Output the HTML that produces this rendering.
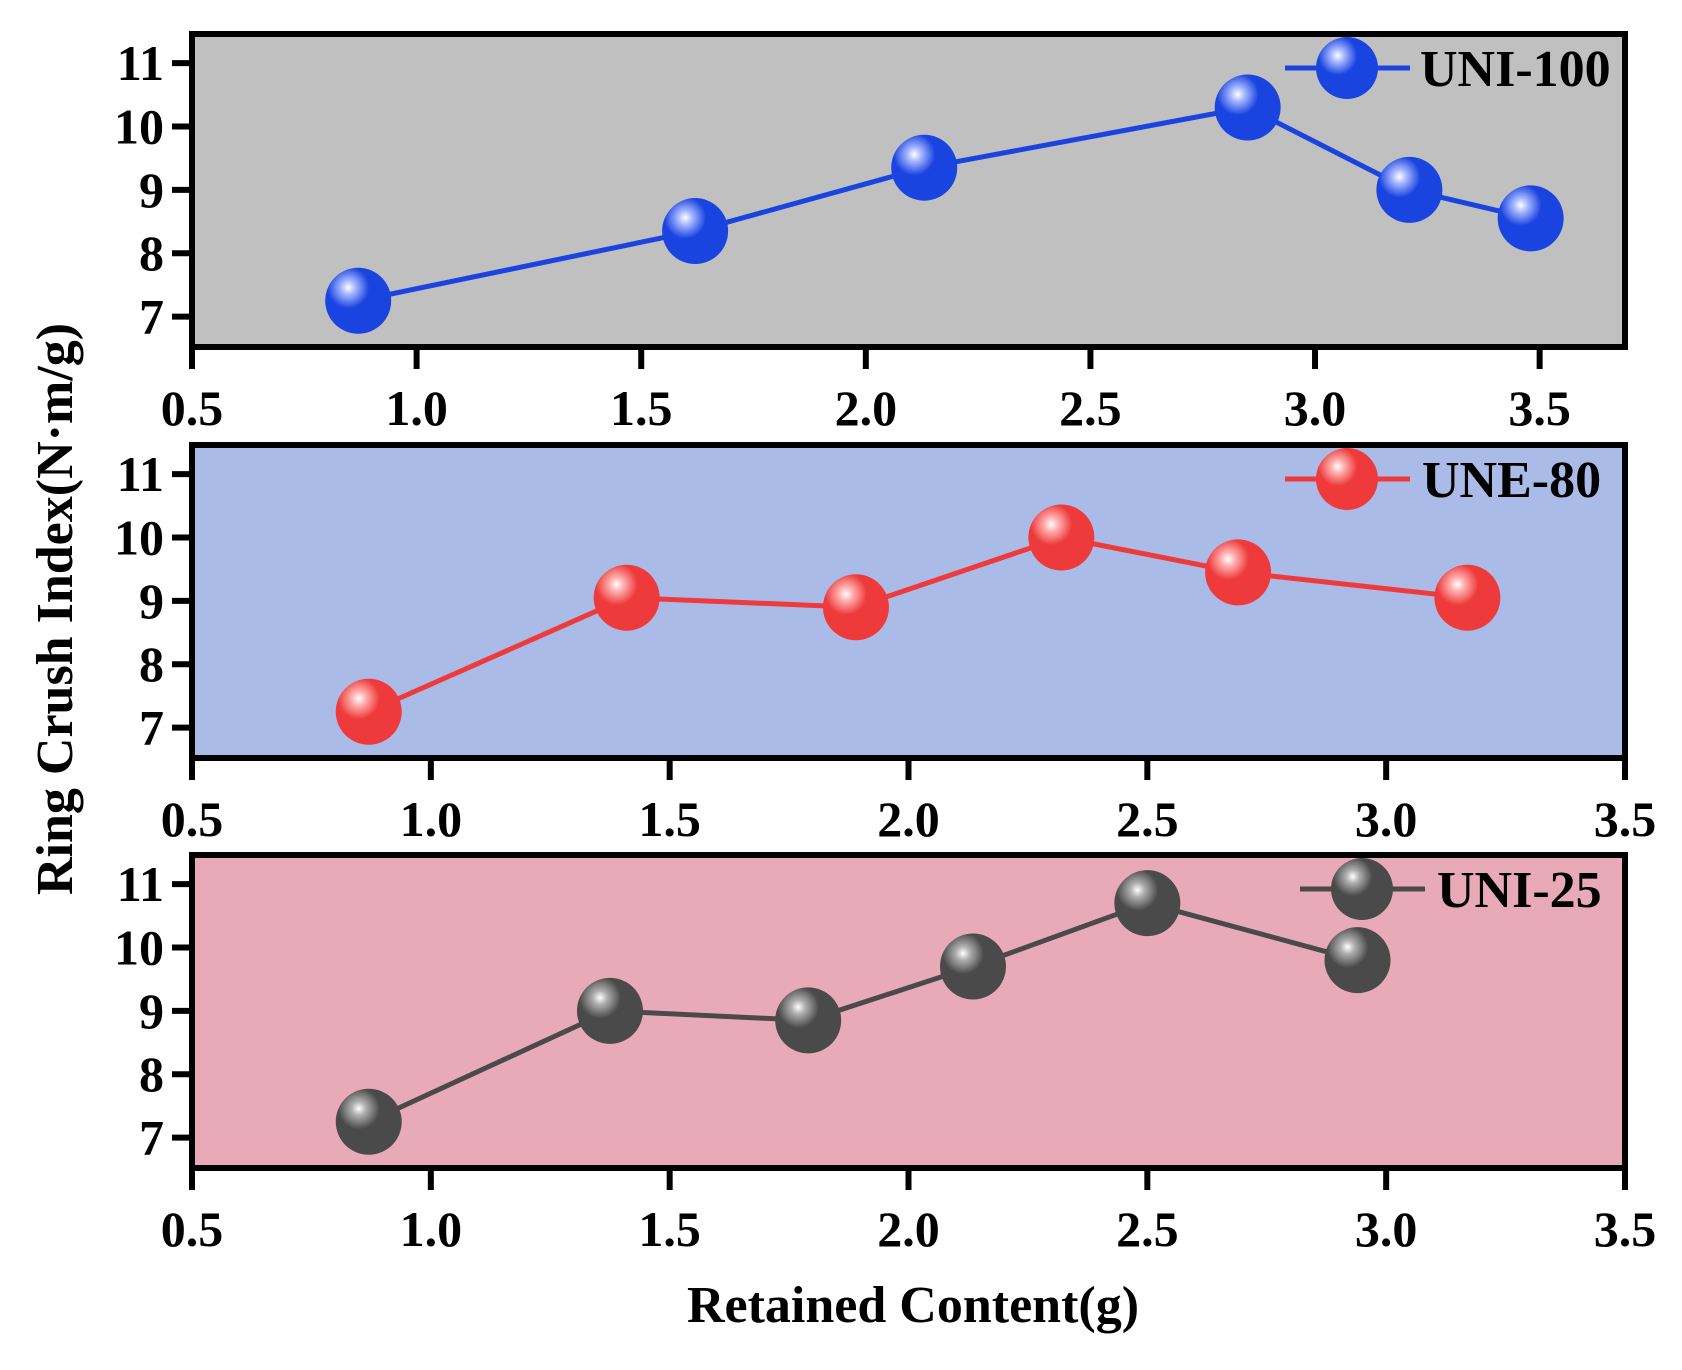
<!DOCTYPE html>
<html><head><meta charset="utf-8"><style>
html,body{margin:0;padding:0;background:#fff;}
svg{display:block;}
text{font-family:"Liberation Serif",serif;font-weight:bold;fill:#000;}
</style></head><body>
<svg id="chart" width="1682" height="1370" viewBox="0 0 1682 1370" xmlns="http://www.w3.org/2000/svg">
<defs>
<radialGradient id="gBlue" cx="0.35" cy="0.3" r="0.7"><stop offset="0" stop-color="#ffffff"/><stop offset="0.15" stop-color="#a8b8ff"/><stop offset="0.45" stop-color="#1a44e0"/><stop offset="1" stop-color="#1a44e0"/></radialGradient>
<radialGradient id="gRed" cx="0.35" cy="0.3" r="0.7"><stop offset="0" stop-color="#ffffff"/><stop offset="0.15" stop-color="#ffb0b0"/><stop offset="0.45" stop-color="#ee3a3a"/><stop offset="1" stop-color="#ee3a3a"/></radialGradient>
<radialGradient id="gDark" cx="0.35" cy="0.3" r="0.7"><stop offset="0" stop-color="#ffffff"/><stop offset="0.15" stop-color="#b0b0b0"/><stop offset="0.45" stop-color="#4a4a4a"/><stop offset="1" stop-color="#4a4a4a"/></radialGradient>
</defs>
<text x="0" y="0" font-size="52" text-anchor="middle" transform="translate(72,609) rotate(-90)">Ring Crush Index(N·m/g)</text>
<text x="913" y="1322" font-size="52" text-anchor="middle">Retained Content(g)</text>
</svg>
<script>
const uni100X = [0.87, 1.62, 2.13, 2.85, 3.21, 3.48];
const uni100Y = [7.25, 8.35, 9.35, 10.3, 9.0, 8.55];
const une80X = [0.87, 1.41, 1.89, 2.32, 2.69, 3.17];
const une80Y = [7.25, 9.05, 8.9, 10.0, 9.45, 9.05];
const uni25X = [0.87, 1.375, 1.79, 2.135, 2.5, 2.94];
const uni25Y = [7.25, 9.0, 8.85, 9.7, 10.7, 9.8];
const yTicks = [7, 8, 9, 10, 11];
const xTicks1 = [0.5, 1.0, 1.5, 2.0, 2.5, 3.0, 3.5];
const xTicks = [0.5, 1.0, 1.5, 2.0, 2.5, 3.0, 3.5];
const seriesNames = ["UNI-100", "UNE-80", "UNI-25"];

const svg = document.getElementById('chart');
const NS = 'http://www.w3.org/2000/svg';
function mk(tag, attrs, parent){const e=document.createElementNS(NS,tag);for(const k in attrs)e.setAttribute(k,attrs[k]);(parent||svg).appendChild(e);return e;}

const L=192, R=1625, PH=313, yMin=6.52, yMax=11.46;
const panels = [
  {top:34, xMax:3.69, xs:uni100X, ys:uni100Y, ticks:xTicks1, bg:'#c0c0c0', col:'#1a44e0', grad:'gBlue', name:seriesNames[0], key:'uni-100', lx:1285, ltx:1420},
  {top:445, xMax:3.5, xs:une80X, ys:une80Y, ticks:xTicks, bg:'#aabbe8', col:'#ee3a3a', grad:'gRed', name:seriesNames[1], key:'une-80', lx:1285, ltx:1422},
  {top:855, xMax:3.5, xs:uni25X, ys:uni25Y, ticks:xTicks, bg:'#e8aab8', col:'#4a4a4a', grad:'gDark', name:seriesNames[2], key:'uni-25', lx:1300, ltx:1437}
];
panels.forEach(p=>{
  const sx=v=>L+(v-0.5)/(p.xMax-0.5)*(R-L);
  const sy=v=>p.top+(yMax-v)/(yMax-yMin)*PH;
  const g=mk('g',{});
  
  
  const bg=mk('rect',{x:L,y:p.top,width:R-L,height:PH,fill:p.bg,stroke:'#000','stroke-width':6},g);
  
  
  yTicks.forEach(t=>{
    const y=sy(t);
    const tl=mk('line',{x1:L-20,x2:L,y1:y,y2:y,stroke:'#000','stroke-width':6},g);
    
    
    const tx=mk('text',{x:L-28,y:y+17,'font-size':50,'text-anchor':'end'},g);
    
    
    tx.textContent=t;
  });
  p.ticks.forEach(t=>{
    const x=sx(t);
    const tl=mk('line',{x1:x,x2:x,y1:p.top+PH,y2:p.top+PH+22,stroke:'#000','stroke-width':6},g);
    
    
    const tx=mk('text',{x:x,y:p.top+PH+78,'font-size':50,'text-anchor':'middle'},g);
    
    
    tx.textContent=t.toFixed(1);
  });
  const pts=p.xs.map((v,i)=>sx(v)+','+sy(p.ys[i])).join(' ');
  const line=mk('polyline',{points:pts,fill:'none',stroke:p.col,'stroke-width':5},g);
  
  
  p.xs.forEach((v,i)=>{
    const c=mk('circle',{cx:sx(v),cy:sy(p.ys[i]),r:33,fill:'url(#'+p.grad+')'},g);
    
    
  });
  const lg=mk('g',{},g);
  
  
  const ly=p.top+34;
  mk('line',{x1:p.lx,x2:p.lx+125,y1:ly,y2:ly,stroke:p.col,'stroke-width':5},lg);
  mk('circle',{cx:p.lx+62,cy:ly,r:31,fill:'url(#'+p.grad+')'},lg);
  const lt=mk('text',{x:p.ltx,y:ly+18,'font-size':52},lg);
  
  
  lt.textContent=p.name;
});
</script>
</body></html>
